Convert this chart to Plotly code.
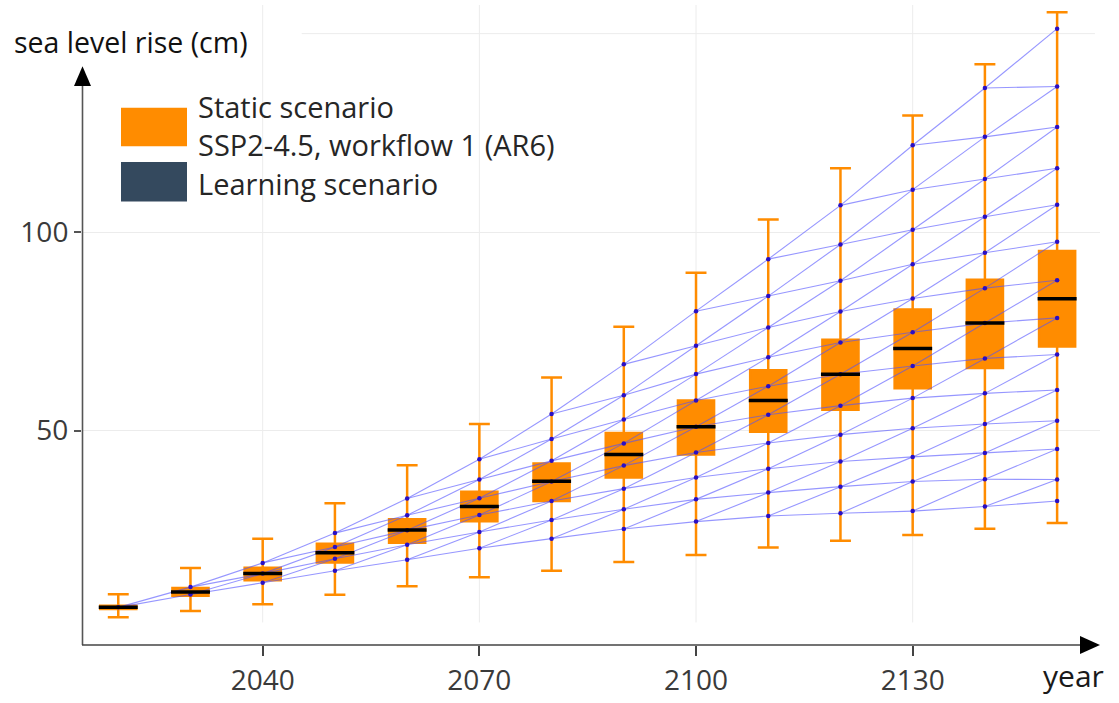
import plotly.graph_objects as go

# ---------------- data ----------------
years = [2020, 2030, 2040, 2050, 2060, 2070, 2080, 2090, 2100, 2110, 2120, 2130, 2140, 2150]

whisker_low = [3.0, 4.6, 6.3, 8.7, 10.8, 13.1, 14.7, 16.9, 18.7, 20.6, 22.3, 23.75, 25.3, 26.75]
box_q1 = [5.1, 8.4, 12.3, 16.8, 21.75, 27.2, 32.3, 38.2, 44.0, 49.7, 55.25, 60.7, 65.8, 71.2]
box_median = [5.5, 9.4, 14.0, 19.25, 25.0, 30.9, 37.25, 44.0, 51.0, 57.6, 64.2, 70.7, 77.1, 83.2]
box_q3 = [5.9, 10.4, 15.5, 21.5, 27.7, 34.6, 41.75, 49.4, 57.6, 65.25, 72.9, 80.5, 88.0, 95.25]
whisker_high = [8.8, 15.4, 22.75, 31.75, 41.3, 51.7, 63.4, 76.2, 89.75, 103.2, 116.1, 129.4, 142.3, 155.4]

# learning-scenario lattice nodes, per year (low -> high)
nodes_2020 = [5.5]
nodes_2030 = [8.75, 10.6]
nodes_2040 = [11.7, 14.0, 16.7]
nodes_2050 = [14.7, 17.75, 20.7, 24.2]
nodes_2060 = [17.5, 21.25, 24.9, 28.7, 32.9]
nodes_2070 = [20.4, 24.5, 28.75, 33.0, 37.7, 42.8]
nodes_2080 = [22.8, 27.5, 32.3, 37.2, 42.4, 47.9, 54.2]
nodes_2090 = [25.25, 30.2, 35.4, 41.2, 46.8, 52.8, 58.9, 66.7]
nodes_2100 = [27.1, 32.7, 38.2, 44.5, 51.0, 57.6, 64.25, 71.4, 80.1]
nodes_2110 = [28.5, 34.4, 40.4, 46.9, 54.0, 61.2, 68.5, 76.0, 83.9, 93.2]
nodes_2120 = [29.2, 35.9, 42.25, 49.0, 56.3, 64.2, 72.2, 80.0, 87.75, 96.9, 106.75]
nodes_2130 = [29.75, 37.2, 43.4, 50.6, 58.2, 66.3, 74.8, 83.3, 91.9, 100.6, 110.7, 121.9]
nodes_2140 = [30.9, 37.75, 44.4, 51.7, 59.4, 68.2, 77.1, 85.9, 94.8, 103.9, 113.4, 124.0, 136.3]
nodes_2150 = [32.3, 37.7, 45.4, 52.5, 60.25, 69.2, 78.4, 87.9, 97.6, 106.9, 116.1, 126.5, 136.7, 151.25]

learning_nodes = [nodes_2020, nodes_2030, nodes_2040, nodes_2050, nodes_2060, nodes_2070,
                  nodes_2080, nodes_2090, nodes_2100, nodes_2110, nodes_2120, nodes_2130,
                  nodes_2140, nodes_2150]

x_tick_vals = [2040, 2070, 2100, 2130]
y_tick_vals = [50, 100]
y_extra_grid = 150

title_text = "sea level rise (cm)"
x_title_text = "year"
legend_static = ["Static scenario", "SSP2-4.5, workflow 1 (AR6)"]
legend_learning = "Learning scenario"

# ---------------- styles ----------------
ORANGE = "#ff8c00"
DARK = "#34495e"
LINE_BLUE = "rgba(80,80,255,0.6)"
DOT_BLUE = "#2a0fc4"
FONT = "Open Sans"
FS = 28
FS_LEG = 29

W, H = 1119, 703
AXIS_Y = 653
ML, MR, MT = 82, 19, 5
MB = H - AXIS_Y
PW, PH = W - ML - MR, AXIS_Y - MT


def px(x):
    return (x - ML) / PW


def py(y):
    return (AXIS_Y - y) / PH


# ---------------- traces ----------------
fig = go.Figure()

fig.add_trace(go.Box(
    x=years, q1=box_q1, median=box_median, q3=box_q3,
    lowerfence=whisker_low, upperfence=whisker_high,
    width=5, whiskerwidth=0.58, boxpoints=False,
    fillcolor=ORANGE, line=dict(color=ORANGE, width=2.5),
    hoverinfo="skip", showlegend=False,
))

# lattice lines: each node connects to the same rank and the next rank
lx, ly = [], []
for i in range(len(years) - 1):
    cur, nxt = learning_nodes[i], learning_nodes[i + 1]
    for k, v in enumerate(cur):
        for kk in (k, k + 1):
            lx += [years[i], years[i + 1], None]
            ly += [v, nxt[kk], None]
fig.add_trace(go.Scatter(x=lx, y=ly, mode="lines",
                         line=dict(color=LINE_BLUE, width=1.1),
                         hoverinfo="skip", showlegend=False))

dx, dy = [], []
for yr, nodes in zip(years, learning_nodes):
    for v in nodes:
        dx.append(yr)
        dy.append(v)
fig.add_trace(go.Scatter(x=dx, y=dy, mode="markers",
                         marker=dict(color=DOT_BLUE, size=4.5),
                         hoverinfo="skip", showlegend=False))

mx, my = [], []
for yr, m in zip(years, box_median):
    mx += [yr - 2.7, yr + 2.7, None]
    my += [m, m, None]
fig.add_trace(go.Scatter(x=mx, y=my, mode="lines",
                         line=dict(color="black", width=3.5),
                         hoverinfo="skip", showlegend=False))

# ---------------- axes ----------------
# reference pixel mapping: x = 262.7 + 7.222*(year-2040); y = 637 - 4.02*value
x_range = [2040 + (ML - 262.7) / 7.222, 2040 + (W - MR - 262.7) / 7.222]
y_range = [(637 - AXIS_Y) / 4.02, (637 - MT) / 4.02]

fig.update_xaxes(range=x_range, tickvals=x_tick_vals, showgrid=False, zeroline=False,
                 showline=False, ticks="outside", ticklen=10, tickwidth=1.5, tickcolor="#444",
                 tickfont=dict(family=FONT, size=FS, color="#3a3a3a"))
fig.update_yaxes(range=y_range, tickvals=y_tick_vals, showgrid=True, gridcolor="#ececec",
                 gridwidth=1, zeroline=False, showline=False, ticks="outside", ticklen=7,
                 tickwidth=1.5, tickcolor="#555",
                 tickfont=dict(family=FONT, size=FS, color="#3a3a3a"))

shapes = []
# vertical grid lines
for xv in x_tick_vals:
    shapes.append(dict(type="line", xref="x", yref="y", x0=xv, x1=xv, y0=1.7, y1=y_range[1] + 2,
                       line=dict(color="#ececec", width=1), layer="below"))
# extra horizontal grid line
shapes.append(dict(type="line", xref="x", yref="y", x0=2045.4, x1=x_range[1] - 0.7,
                   y0=y_extra_grid, y1=y_extra_grid, line=dict(color="#ececec", width=1),
                   layer="below"))
# y axis with arrow
shapes.append(dict(type="line", xref="paper", yref="paper", x0=px(82.5), x1=px(82.5),
                   y0=0, y1=py(84), line=dict(color="#555", width=1.6)))
shapes.append(dict(type="path", xref="paper", yref="paper",
                   path=f"M {px(74)} {py(87)} L {px(82.5)} {py(67)} L {px(91)} {py(87)} Z",
                   fillcolor="black", line=dict(width=0)))
# x axis with arrow
shapes.append(dict(type="line", xref="paper", yref="paper", x0=px(82), x1=px(1082),
                   y0=0, y1=0, line=dict(color="#444", width=1.6)))
shapes.append(dict(type="path", xref="paper", yref="paper",
                   path=f"M {px(1080)} {py(644)} L {px(1100)} {py(653)} L {px(1080)} {py(662)} Z",
                   fillcolor="black", line=dict(width=0)))
# legend swatches
shapes.append(dict(type="rect", xref="paper", yref="paper", x0=px(121), x1=px(187),
                   y0=py(148), y1=py(109), fillcolor=ORANGE, line=dict(width=0)))
shapes.append(dict(type="rect", xref="paper", yref="paper", x0=px(121), x1=px(187),
                   y0=py(204), y1=py(164), fillcolor=DARK, line=dict(width=0)))

annotations = [
    dict(text=title_text, x=px(12), y=py(42), xref="paper", yref="paper", xanchor="left",
         yanchor="middle", showarrow=False, font=dict(family=FONT, size=28.5, color="#111")),
    dict(text=x_title_text, x=px(1041), y=py(684), xref="paper", yref="paper", xanchor="left",
         yanchor="middle", showarrow=False, font=dict(family=FONT, size=FS + 2, color="#1a1a1a")),
    dict(text="<br>".join(legend_static), x=px(196), y=py(126.5), xref="paper", yref="paper",
         xanchor="left", yanchor="middle", align="left", showarrow=False,
         font=dict(family=FONT, size=FS_LEG, color="#262626")),
    dict(text=legend_learning, x=px(196), y=py(186), xref="paper", yref="paper", xanchor="left",
         yanchor="middle", showarrow=False, font=dict(family=FONT, size=FS_LEG, color="#262626")),
]

fig.update_layout(
    width=W, height=H,
    margin=dict(l=ML, r=MR, t=MT, b=MB, pad=0),
    paper_bgcolor="white", plot_bgcolor="white",
    shapes=shapes, annotations=annotations, showlegend=False,
)

fig.write_html("out.html", config={"displayModeBar": False},
               post_script="document.body.style.margin='0';document.body.style.overflow='hidden';")
